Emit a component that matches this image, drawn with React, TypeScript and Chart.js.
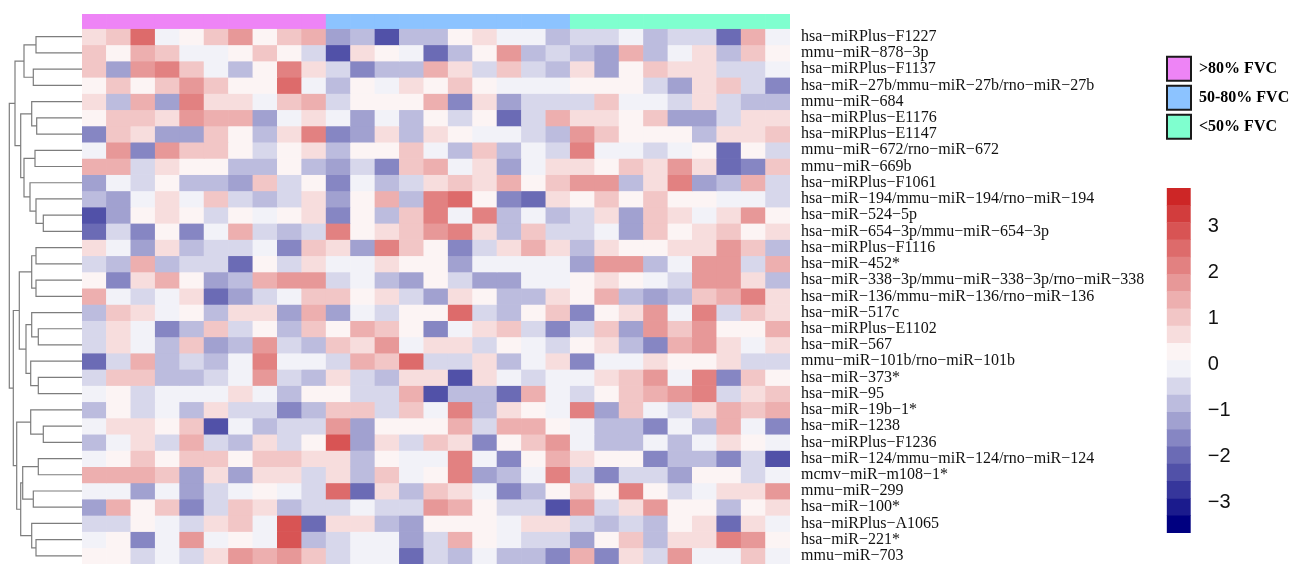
import React, { useEffect, useRef } from 'react';
import { Chart, registerables } from 'chart.js';

Chart.register(...registerables);

// ---------- data ----------
const rowLabels = [
  'hsa−miRPlus−F1227',
  'mmu−miR−878−3p',
  'hsa−miRPlus−F1137',
  'hsa−miR−27b/mmu−miR−27b/rno−miR−27b',
  'mmu−miR−684',
  'hsa−miRPlus−E1176',
  'hsa−miRPlus−E1147',
  'mmu−miR−672/rno−miR−672',
  'mmu−miR−669b',
  'hsa−miRPlus−F1061',
  'hsa−miR−194/mmu−miR−194/rno−miR−194',
  'hsa−miR−524−5p',
  'hsa−miR−654−3p/mmu−miR−654−3p',
  'hsa−miRPlus−F1116',
  'hsa−miR−452*',
  'hsa−miR−338−3p/mmu−miR−338−3p/rno−miR−338',
  'hsa−miR−136/mmu−miR−136/rno−miR−136',
  'hsa−miR−517c',
  'hsa−miRPlus−E1102',
  'hsa−miR−567',
  'mmu−miR−101b/rno−miR−101b',
  'hsa−miR−373*',
  'hsa−miR−95',
  'hsa−miR−19b−1*',
  'hsa−miR−1238',
  'hsa−miRPlus−F1236',
  'hsa−miR−124/mmu−miR−124/rno−miR−124',
  'mcmv−miR−m108−1*',
  'mmu−miR−299',
  'hsa−miR−100*',
  'hsa−miRPlus−A1065',
  'hsa−miR−221*',
  'mmu−miR−703',
];

const sampleIds = [
  'A1', 'A2', 'A3', 'A4', 'A5', 'A6', 'A7', 'A8', 'A9', 'A10',
  'B1', 'B2', 'B3', 'B4', 'B5', 'B6', 'B7', 'B8', 'B9', 'B10',
  'C1', 'C2', 'C3', 'C4', 'C5', 'C6', 'C7', 'C8', 'C9',
];

const sampleGroups = [
  0, 0, 0, 0, 0, 0, 0, 0, 0, 0,
  1, 1, 1, 1, 1, 1, 1, 1, 1, 1,
  2, 2, 2, 2, 2, 2, 2, 2, 2,
];

const groupNames = ['>80% FVC', '50-80% FVC', '<50% FVC'];
const groupColors = ['#EE84F6', '#8CC3FF', '#7FFFCF'];

const colorTicks = [-3, -2, -1, 0, 1, 2, 3];

// z-scores, one row per miRNA, columns in sample order
const zScores = [
  [0.6, 1.0, 2.5, -0.1, 0.25, 1.0, 1.8, 0.25, 1.0, 1.4, -1.3, -0.9, -2.4, -0.9, -0.9, 0.25, 0.6, -0.1, -0.1, -0.9, -0.5, -0.5, -0.1, -0.9, -0.5, -0.5, -2.0, 1.4, -0.1],
  [1.0, 0.25, 1.4, 1.0, -0.1, -0.1, 0.25, 1.0, 0.25, -0.5, -2.4, 0.6, 0.25, -0.1, -2.0, -0.9, 0.25, 1.8, -0.9, -0.5, -0.9, -1.3, 1.4, -0.9, -0.1, 0.6, -0.9, 1.0, 0.25],
  [1.0, -1.3, 1.8, 2.1, 1.0, -0.1, -0.9, 0.25, 2.1, 0.6, -0.5, -1.6, -0.9, -0.9, 1.4, 0.6, -0.5, 1.0, -0.5, -0.9, 0.6, -1.3, 0.25, 1.0, 0.6, 0.6, -0.5, -0.5, -0.1],
  [0.25, 1.0, 0.25, 1.0, 1.8, 1.0, 0.25, 0.25, 2.5, -0.1, -0.9, 0.25, -0.1, 0.6, 0.25, 1.0, 0.25, -0.1, -0.1, -0.1, 0.25, 0.25, 0.25, -0.5, -1.3, 0.6, 1.0, -0.5, -1.6],
  [0.6, -0.9, 1.4, -1.3, 2.1, 0.6, 0.6, -0.1, 1.0, 1.4, -0.5, 0.25, 0.25, 0.25, 1.4, -1.6, 0.6, -1.3, -0.5, -0.5, -0.5, 1.0, -0.1, -0.1, -0.5, 0.6, -0.5, -0.9, -0.9],
  [0.25, 1.0, 1.0, 0.6, 1.8, 1.4, 1.4, -1.3, -0.1, 0.6, -0.1, -1.3, -0.1, -0.9, 0.25, -0.5, 0.25, -2.0, -0.5, 1.4, 0.6, 0.6, 0.25, 1.0, -1.3, -1.3, -0.5, 0.6, 0.6],
  [-1.6, 1.0, 0.6, -1.3, -1.3, 1.0, 0.25, -0.9, 0.6, 2.1, -1.6, -1.3, 0.6, -0.9, 0.6, 0.25, -0.1, -0.1, -0.5, -0.9, 1.8, 1.0, 0.25, 0.25, 0.25, -0.9, 0.6, 0.6, 1.0],
  [-0.1, 1.8, -1.6, 1.8, 1.0, 1.0, 0.25, -0.5, 0.25, 0.6, -0.9, 0.25, 0.25, 1.0, -0.1, -0.9, 1.0, -0.9, -0.1, -0.5, 2.1, -0.1, -0.1, -0.5, -0.1, 0.25, -2.0, 0.25, -0.5],
  [1.4, 1.4, -0.5, 0.6, 0.25, 0.25, -0.9, -0.9, 0.25, -0.9, -1.3, -0.5, -1.6, 1.0, 1.4, -0.1, 0.6, -1.3, -0.1, 0.6, 0.6, 0.25, 1.0, 0.6, 1.8, 0.6, -2.0, -1.6, 1.0],
  [-1.3, -0.1, -0.5, 0.25, -0.9, -0.9, -1.3, 1.0, -0.5, 0.25, -1.6, -0.1, -0.9, -0.5, 0.6, 1.0, 0.6, 1.4, 0.25, 1.0, 1.8, 1.8, -0.9, 0.6, 2.1, -1.3, -0.9, 1.4, -0.5],
  [-0.9, -1.3, -0.1, 0.6, -0.1, 1.0, -0.5, -0.9, -0.5, 0.6, -1.3, 0.25, 1.4, -0.9, 2.1, 2.5, 0.25, -1.6, -2.0, 0.6, 0.25, 1.0, 0.25, 1.0, 0.25, 0.25, -0.1, -0.1, -0.5],
  [-2.4, -1.3, 0.25, 0.6, 0.25, -0.5, 0.25, -0.1, 0.25, 0.6, -1.6, 0.25, -0.9, 1.0, 2.1, -0.1, 2.1, -0.9, -0.1, -0.9, -0.5, 0.6, -1.3, 1.0, 0.6, -0.1, 0.6, 1.8, 0.25],
  [-2.0, -0.5, -1.6, 0.25, -1.6, -0.1, 1.4, -0.5, -0.9, -0.5, 2.1, 0.25, 0.6, 1.0, 1.8, 2.1, 0.6, -0.9, 1.0, -0.5, -0.5, -0.1, -1.3, 1.0, 0.25, 0.6, 1.0, 0.25, 0.6],
  [0.6, -0.1, -1.3, 0.6, -0.9, -0.5, -0.5, -0.1, -1.6, 1.0, 0.6, -1.3, 2.1, 1.0, 0.25, -1.6, -0.5, 0.6, 1.4, 0.6, -0.9, 0.6, 0.25, 0.25, 0.6, 0.6, 1.8, 1.0, -0.9],
  [-0.5, -0.9, 1.4, -0.9, -0.5, -0.5, -2.0, 0.25, -0.5, 0.6, -0.1, -0.1, 0.6, 0.25, 0.25, -1.3, -0.1, -0.1, -0.1, -0.1, -1.3, 1.8, 1.8, -0.9, -0.1, 1.8, 1.8, -0.5, 1.4],
  [0.25, -1.6, 0.6, 1.4, 0.25, -1.3, -0.9, 1.4, 1.8, 1.8, -0.5, -0.1, -0.9, -1.3, 0.25, -0.5, -1.3, -1.3, -0.1, -0.1, 0.25, 0.6, 0.25, -0.1, -0.5, 1.8, 1.8, 0.6, -0.9],
  [1.4, -0.1, -0.5, -0.1, 0.6, -2.0, -1.3, -0.5, -0.1, 1.0, 1.0, 0.25, 0.6, -0.5, -1.3, 0.6, 0.25, -0.9, -0.9, 0.6, 0.25, 1.4, -0.9, -1.3, -0.9, 1.0, 1.4, 2.1, 0.6],
  [-0.9, 1.0, 0.6, -0.1, 0.25, -0.9, 0.6, 0.6, -1.3, 1.4, -1.3, -0.1, -0.5, 0.25, 0.25, 2.5, -0.5, -0.9, 0.25, 1.0, -1.6, 0.25, 0.6, 1.8, -0.1, 2.1, -0.5, 1.0, 0.6],
  [-0.5, 0.6, -0.1, -1.6, -0.9, 1.0, -0.5, 0.25, -0.9, 1.0, 0.25, 1.4, 1.0, 0.25, -1.6, -0.1, 0.6, 1.0, -0.5, -1.6, -0.5, 1.0, -1.3, 1.8, 1.0, 1.8, 0.25, 0.25, 1.4],
  [-0.5, 0.6, -0.1, -0.9, 1.0, -1.3, -0.9, 1.8, -0.5, -0.9, 1.0, 0.6, 1.8, -0.1, 0.6, 0.6, -0.5, 0.25, -0.1, -0.5, 0.25, 0.6, -0.9, -1.6, 1.4, 1.8, 0.6, -0.1, 0.6],
  [-2.0, -0.5, 1.4, -0.9, -0.5, -0.9, -0.1, 2.1, -0.1, -0.1, -0.5, 1.4, 1.0, 2.5, -0.5, -0.5, 0.6, -0.9, -0.1, 0.6, -1.6, -0.1, -0.1, 0.6, 0.25, 0.25, 0.6, -0.5, -0.5],
  [-0.5, 1.0, 1.0, -0.9, -0.9, -0.5, -0.1, 1.8, -0.5, -0.9, 0.6, -0.5, -0.9, 0.6, 0.6, -2.4, 0.6, -0.1, -0.5, -0.1, -0.1, 0.6, 1.0, 1.8, -0.1, 2.1, -1.6, 1.0, 0.25],
  [-0.1, 0.25, -0.5, -0.1, -0.1, -0.1, 0.6, -0.1, -0.9, 0.25, 0.25, -0.5, -0.5, 1.4, -2.4, -0.9, -0.9, -2.0, 1.4, -0.1, -0.5, 0.25, 1.0, 1.4, 1.8, 2.1, -0.5, 0.6, 1.0],
  [-0.9, 0.25, -0.5, -0.1, -0.9, 0.6, -0.5, -0.5, -1.6, -0.9, 1.0, 1.0, -0.5, 1.0, -0.1, 2.1, -0.9, 0.6, 0.25, -0.1, 2.1, -1.3, 1.0, -0.1, -0.5, 0.6, 1.4, 1.0, 1.4],
  [-0.1, 0.6, 0.6, 0.25, 1.0, -2.4, -0.1, -0.9, -0.5, -0.5, 1.8, -1.3, 0.25, 0.25, 0.25, 1.4, -0.5, 1.4, 1.4, 0.25, -0.1, -0.9, -0.9, -1.6, -0.1, -0.9, 1.4, -0.1, -1.6],
  [-0.9, -0.1, 0.6, -0.5, 1.4, -0.5, -0.9, 0.6, -0.5, 0.25, 2.9, -1.3, 0.6, -0.5, 1.0, 0.6, -1.6, 0.25, 1.0, 1.8, -0.1, -0.9, -0.9, -0.1, -0.9, -0.1, 0.6, 0.25, -0.1],
  [-0.1, 0.25, 1.0, 0.25, 1.0, 1.0, 0.25, 1.0, 1.0, 0.6, 0.6, -0.9, 0.25, -0.1, -0.1, 2.1, -0.1, -1.6, 0.25, 1.4, 0.6, 0.25, 0.25, -1.6, -0.9, -0.9, -1.6, -0.5, -2.4],
  [1.4, 1.4, 1.4, 1.0, -1.3, 0.6, -1.3, 0.6, 0.6, -0.5, 0.6, -0.9, 1.0, -0.1, 0.25, 2.1, -1.3, -0.9, -0.1, 2.1, -0.5, -1.6, -0.5, -0.5, -1.3, 0.25, 0.25, -0.5, -0.1],
  [-0.1, -0.1, -1.3, -0.1, -1.3, -0.5, -0.1, 0.25, -0.1, -0.5, 2.5, -2.0, 0.6, -0.9, 1.0, 0.6, -0.1, -1.6, -0.9, 0.25, 1.0, 0.25, 2.1, 0.25, -0.5, -0.1, 0.6, 0.6, 1.8],
  [-1.3, 1.4, 0.25, 1.0, -1.6, -0.5, 1.0, 0.6, -0.9, -0.5, -0.5, -0.1, -0.5, -0.5, 1.8, 1.4, 0.25, -0.5, -0.5, -2.4, 1.8, -0.5, 0.6, 1.8, 0.25, 0.25, -0.9, 0.25, 0.6],
  [-0.5, -0.5, 0.25, -0.1, -0.5, 0.6, 1.0, -0.1, 2.9, -2.0, 0.6, 0.6, -0.9, -1.3, 0.25, 0.25, 0.25, -0.1, 0.6, 0.6, -0.5, -0.9, -0.5, -0.9, 0.25, 0.6, -2.0, 0.6, -0.1],
  [-0.1, 0.25, -1.6, -0.1, 1.8, -0.1, 0.25, -0.1, 2.9, -0.9, -0.5, -0.1, -0.1, -1.3, -0.5, 1.4, 0.25, -0.1, -0.5, -0.5, -1.3, 0.25, 1.0, -0.9, 0.6, 0.6, 2.1, 1.8, 0.25],
  [0.25, 0.25, -0.5, -0.1, -0.5, 0.6, 1.8, 1.4, 1.8, 1.0, -0.5, -0.1, -0.1, -2.0, -0.5, -0.9, -0.1, -0.9, -0.9, -1.6, 1.4, -1.6, 0.6, -0.5, 1.8, -0.1, -0.1, 1.0, -0.1],
];

// row dendrogram: [left, right, height]; negative = leaf (row number), positive = earlier merge
const dendroMerges: [number, number, number][] = [
  [-1, -2, 46], [-3, -4, 48.7], [1, 2, 58],
  [-6, -7, 45.3], [-5, 4, 50.3],
  [-8, -9, 47], [-12, -13, 38.7], [-11, 7, 46], [-10, 8, 52], [6, 9, 58],
  [5, 10, 61.3], [3, 11, 67],
  [-14, -15, 46], [-16, -17, 46], [13, 14, 50.3],
  [-19, -20, 43.7], [-18, 16, 50.3], [-22, -23, 43.7], [-21, 18, 51.3], [17, 19, 56],
  [15, 20, 62.7],
  [-25, -26, 38.7], [-24, 22, 51.3], [-27, -28, 43.7], [-29, -30, 48.7], [24, 25, 59.3],
  [-32, -33, 46], [-31, 27, 50.3], [26, 28, 61.3], [23, 29, 65.3],
  [21, 30, 68.7], [12, 31, 72.7],
];

// color scale: breaks and palette (navy - white - firebrick3, 20 steps)
const BREAK_MIN = -3.67;
const BREAK_STEP = 0.375;
const N_COLORS = 20;
const paletteAnchors = [[0, 0, 128], [255, 255, 255], [205, 38, 38]];

// ---------- layout constants ----------
const W = 1303;
const H = 565;
const ANN = 0.9; // annotation strip height in row units
const DENDRO_LEFT = 9.3;

function buildPalette(n: number): string[] {
  const out: string[] = [];
  for (let i = 0; i < n; i++) {
    const t = i / (n - 1);
    const seg = t < 0.5 ? 0 : 1;
    const f = seg === 0 ? t / 0.5 : (t - 0.5) / 0.5;
    const a = paletteAnchors[seg];
    const b = paletteAnchors[seg + 1];
    const c = a.map((v, k) => Math.round(v + (b[k] - v) * f));
    out.push(`rgb(${c[0]},${c[1]},${c[2]})`);
  }
  return out;
}
const palette = buildPalette(N_COLORS);

function colorFor(v: number): string {
  let idx = Math.floor((v - BREAK_MIN) / BREAK_STEP);
  if (idx < 0) idx = 0;
  if (idx > N_COLORS - 1) idx = N_COLORS - 1;
  return palette[idx];
}

const dendroPlugin = {
  id: 'rowDendrogram',
  afterDatasetsDraw(chart: any) {
    const { ctx, chartArea, scales } = chart;
    const ys = scales.y;
    const maxH = Math.max(...dendroMerges.map((m) => m[2]));
    const right = chartArea.left;
    const k = (right - DENDRO_LEFT) / maxH;
    const pos: { x: number; y: number }[] = [];
    const nodeOf = (ref: number) =>
      ref < 0
        ? { x: right, y: ys.getPixelForValue(ANN + (-ref - 1) + 0.5) }
        : pos[ref - 1];
    ctx.save();
    ctx.strokeStyle = '#7d7d7d';
    ctx.lineWidth = 1.2;
    ctx.beginPath();
    dendroMerges.forEach(([a, b, h], i) => {
      const A = nodeOf(a);
      const B = nodeOf(b);
      const x = right - h * k;
      ctx.moveTo(A.x, A.y);
      ctx.lineTo(x, A.y);
      ctx.lineTo(x, B.y);
      ctx.lineTo(B.x, B.y);
      pos[i] = { x, y: (A.y + B.y) / 2 };
    });
    ctx.stroke();
    ctx.restore();
  },
};

export default function App() {
  const mainRef = useRef<HTMLCanvasElement>(null);
  const legRef = useRef<HTMLCanvasElement>(null);
  const cbRef = useRef<HTMLCanvasElement>(null);

  useEffect(() => {
    const charts: Chart[] = [];

    const annDataset = {
      label: 'group',
      data: sampleIds.map(() => ANN),
      backgroundColor: sampleGroups.map((g) => groupColors[g]),
    };
    const rowDatasets = zScores.map((row, i) => ({
      label: rowLabels[i],
      data: row.map(() => 1),
      backgroundColor: row.map((v) => colorFor(v)),
    }));

    charts.push(
      new Chart(mainRef.current as HTMLCanvasElement, {
        type: 'bar',
        data: { labels: sampleIds, datasets: [annDataset, ...rowDatasets] as any },
        options: {
          responsive: false,
          animation: false,
          layout: { padding: { left: 82, top: 14, right: 0, bottom: 1 } },
          datasets: {
            bar: { barPercentage: 1, categoryPercentage: 1, borderWidth: 0 },
          },
          plugins: { legend: { display: false }, tooltip: { enabled: false } },
          scales: {
            x: { stacked: true, display: false, offset: true },
            y: {
              stacked: true,
              reverse: true,
              min: 0,
              max: ANN + rowLabels.length,
              position: 'right',
              grid: { display: false },
              border: { display: false },
              afterFit: (s: any) => {
                s.width = W - 790;
                s.paddingTop = 0;
                s.paddingBottom = 0;
              },
              afterBuildTicks: (axis: any) => {
                axis.ticks = rowLabels.map((_, i) => ({ value: ANN + i + 0.5 }));
              },
              ticks: {
                autoSkip: false,
                padding: 3,
                color: '#111',
                font: { family: "'Liberation Serif', 'Times New Roman', serif", size: 16, lineHeight: 1 },
                callback: (v: any) => {
                  const i = Math.round(Number(v) - ANN - 0.5);
                  return rowLabels[i] ?? '';
                },
              },
            },
          },
        },
        plugins: [dendroPlugin],
      })
    );

    charts.push(
      new Chart(legRef.current as HTMLCanvasElement, {
        type: 'bar',
        data: { labels: [], datasets: [] },
        options: {
          responsive: false,
          animation: false,
          layout: { padding: { left: 12, top: 11.7 } },
          scales: { x: { display: false }, y: { display: false } },
          plugins: {
            tooltip: { enabled: false },
            legend: {
              display: true,
              position: 'top',
              align: 'start',
              maxHeight: 125,
              onClick: () => {},
              labels: {
                boxWidth: 24,
                boxHeight: 24,
                padding: 5,
                color: '#000',
                font: { family: "'Liberation Serif', 'Times New Roman', serif", size: 16, weight: 'bold' },
                generateLabels: () =>
                  groupNames.map((n, i) => ({
                    text: n,
                    fillStyle: groupColors[i],
                    strokeStyle: '#1a1a1a',
                    lineWidth: 2,
                    hidden: false,
                    index: i,
                  })) as any,
              },
            },
          },
        },
      })
    );

    const cbDatasets = palette.map((c, i) => ({
      label: `bin${i}`,
      data: [[BREAK_MIN + i * BREAK_STEP, BREAK_MIN + (i + 1) * BREAK_STEP]],
      backgroundColor: c,
      borderWidth: 0,
      barPercentage: 1,
      categoryPercentage: 1,
    }));

    charts.push(
      new Chart(cbRef.current as HTMLCanvasElement, {
        type: 'bar',
        data: { labels: ['z'], datasets: cbDatasets as any },
        options: {
          responsive: false,
          animation: false,
          layout: { padding: { left: 16.7, top: 18, bottom: 17, right: 0 } },
          plugins: { legend: { display: false }, tooltip: { enabled: false } },
          scales: {
            x: { display: false, stacked: true },
            y: {
              position: 'right',
              min: BREAK_MIN,
              max: BREAK_MIN + N_COLORS * BREAK_STEP,
              grid: { display: false },
              border: { display: false },
              afterFit: (s: any) => {
                s.width = 153 - 16.7 - 24;
                s.paddingTop = 0;
                s.paddingBottom = 0;
              },
              afterBuildTicks: (axis: any) => {
                axis.ticks = colorTicks.map((v) => ({ value: v }));
              },
              ticks: {
                padding: 9,
                color: '#111',
                font: { family: "'Liberation Sans', Arial, sans-serif", size: 20 },
                callback: (v: any) => String(v).replace('-', '\u2212'),
              },
            },
          },
        },
      })
    );

    return () => charts.forEach((c) => c.destroy());
  }, []);

  return (
    <div style={{ position: 'absolute', left: 0, top: 0, width: W, height: H, background: '#fff', overflow: 'hidden' }}>
      <canvas ref={mainRef} width={W} height={H} style={{ position: 'absolute', left: 0, top: 0 }} />
      <canvas ref={legRef} width={153} height={130} style={{ position: 'absolute', left: 1150, top: 40 }} />
      <canvas ref={cbRef} width={153} height={380} style={{ position: 'absolute', left: 1150, top: 170 }} />
    </div>
  );
}
